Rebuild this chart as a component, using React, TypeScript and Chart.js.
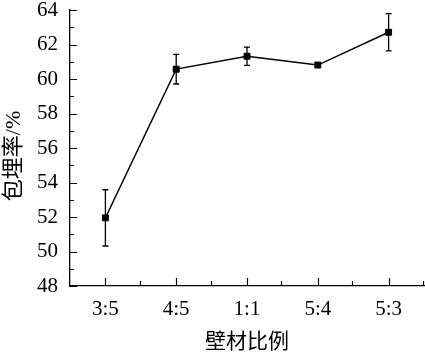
import React, { useEffect, useRef } from "react";
import { Chart, registerables } from "chart.js";

Chart.register(...registerables);

const categories = ["3:5", "4:5", "1:1", "5:4", "5:3"];
const encapsulation = [51.95, 60.57, 61.32, 60.81, 62.71];
const errors = [1.63, 0.86, 0.53, 0, 1.08];
const yMin = 48;
const yMax = 64;
const yStep = 1;
const yLabelStep = 2;
const xTitle = "壁材比例";
const yTitle = "包埋率/%";

const FONT = "'Liberation Serif', 'Times New Roman', 'Noto Sans CJK SC', serif";

const errorAndTicksPlugin = {
  id: "errorAndTicks",
  afterDatasetsDraw(chart: any) {
    const { ctx } = chart;
    const xs = chart.scales.x;
    const ys = chart.scales.y;
    ctx.save();
    ctx.strokeStyle = "#000";
    ctx.lineWidth = 1.3;
    encapsulation.forEach((v, i) => {
      const e = errors[i];
      if (!e) return;
      const x = xs.getPixelForValue(i);
      const yt = ys.getPixelForValue(v + e);
      const yb = ys.getPixelForValue(v - e);
      ctx.beginPath();
      ctx.moveTo(x, yt);
      ctx.lineTo(x, yb);
      ctx.moveTo(x - 3, yt);
      ctx.lineTo(x + 3, yt);
      ctx.moveTo(x - 3, yb);
      ctx.lineTo(x + 3, yb);
      ctx.stroke();
    });
    ctx.restore();
  },
  afterDraw(chart: any) {
    const { ctx, chartArea } = chart;
    const xs = chart.scales.x;
    const ys = chart.scales.y;
    ctx.save();
    ctx.strokeStyle = "#000";
    ctx.lineWidth = 1.2;
    ctx.beginPath();
    ys.ticks.forEach((t: any) => {
      const y = Math.round(ys.getPixelForValue(t.value)) + 0.5;
      const major = Math.round(t.value) % yLabelStep === 0;
      const len = major ? 7 : 4;
      ctx.moveTo(chartArea.left, y);
      ctx.lineTo(chartArea.left + len, y);
    });
    categories.forEach((_, i) => {
      const x = Math.round(xs.getPixelForValue(i)) + 0.5;
      ctx.moveTo(x, chartArea.bottom);
      ctx.lineTo(x, chartArea.bottom - 8);
      const xb = Math.round(xs.getPixelForValue(i + 0.5)) - 0.5;
      ctx.moveTo(xb, chartArea.bottom);
      ctx.lineTo(xb, chartArea.bottom - 5);
    });
    ctx.stroke();
    // y-axis title
    ctx.fillStyle = "#000";
    ctx.font = `22px ${FONT}`;
    ctx.textAlign = "center";
    ctx.textBaseline = "middle";
    ctx.translate(14, (chartArea.top + chartArea.bottom) / 2 + 8);
    ctx.rotate(-Math.PI / 2);
    ctx.fillText(yTitle, 0, 0);
    ctx.restore();
  },
};

export default function App() {
  const ref = useRef<HTMLCanvasElement | null>(null);
  useEffect(() => {
    if (!ref.current) return;
    const chart = new Chart(ref.current, {
      type: "line",
      data: {
        labels: categories,
        datasets: [
          {
            data: encapsulation,
            borderColor: "#000",
            borderWidth: 1.4,
            backgroundColor: "#000",
            pointStyle: "rect",
            pointRadius: 4.2,
            pointBorderWidth: 1,
            pointBorderColor: "#000",
            pointBackgroundColor: "#000",
            tension: 0,
          },
        ],
      },
      options: {
        responsive: false,
        animation: false,
        events: [],
        layout: { padding: { top: 10, right: 1, bottom: 0, left: 0 }, autoPadding: false } as any,
        plugins: { legend: { display: false }, tooltip: { enabled: false } },
        scales: {
          x: {
            type: "category",
            offset: true,
            grid: { display: true, drawOnChartArea: false, drawTicks: false, offset: true, color: "rgba(0,0,0,0)" },
            border: { display: true, color: "#000", width: 1.3 },
            ticks: { color: "#000", font: { family: FONT, size: 21 }, padding: 11, maxRotation: 0 },
            title: { display: true, text: xTitle, color: "#000", font: { family: FONT, size: 21 }, padding: { top: 0, bottom: 0 } },
            afterFit: (s: any) => { s.height = 69; s.paddingLeft = 0; s.paddingRight = 0; },
          },
          y: {
            min: yMin,
            max: yMax,
            grid: { display: true, drawOnChartArea: false, drawTicks: false, color: "rgba(0,0,0,0)" },
            border: { display: true, color: "#000", width: 1.3 },
            ticks: {
              stepSize: yStep,
              autoSkip: false,
              color: "#000",
              font: { family: FONT, size: 21 },
              padding: 12,
              callback: (v: any) => (Math.round(Number(v)) % yLabelStep === 0 ? String(v) : ""),
            },
            title: { display: false },
            afterFit: (s: any) => { s.width = 70; s.paddingTop = 0; s.paddingBottom = 0; },
          },
        },
      },
      plugins: [errorAndTicksPlugin],
    });
    return () => chart.destroy();
  }, []);
  return (
    <div style={{ position: "fixed", left: 0, top: 0, width: 425, height: 355, background: "#fff" }}>
      <canvas ref={ref} width={425} height={355} style={{ display: "block" }} />
    </div>
  );
}
